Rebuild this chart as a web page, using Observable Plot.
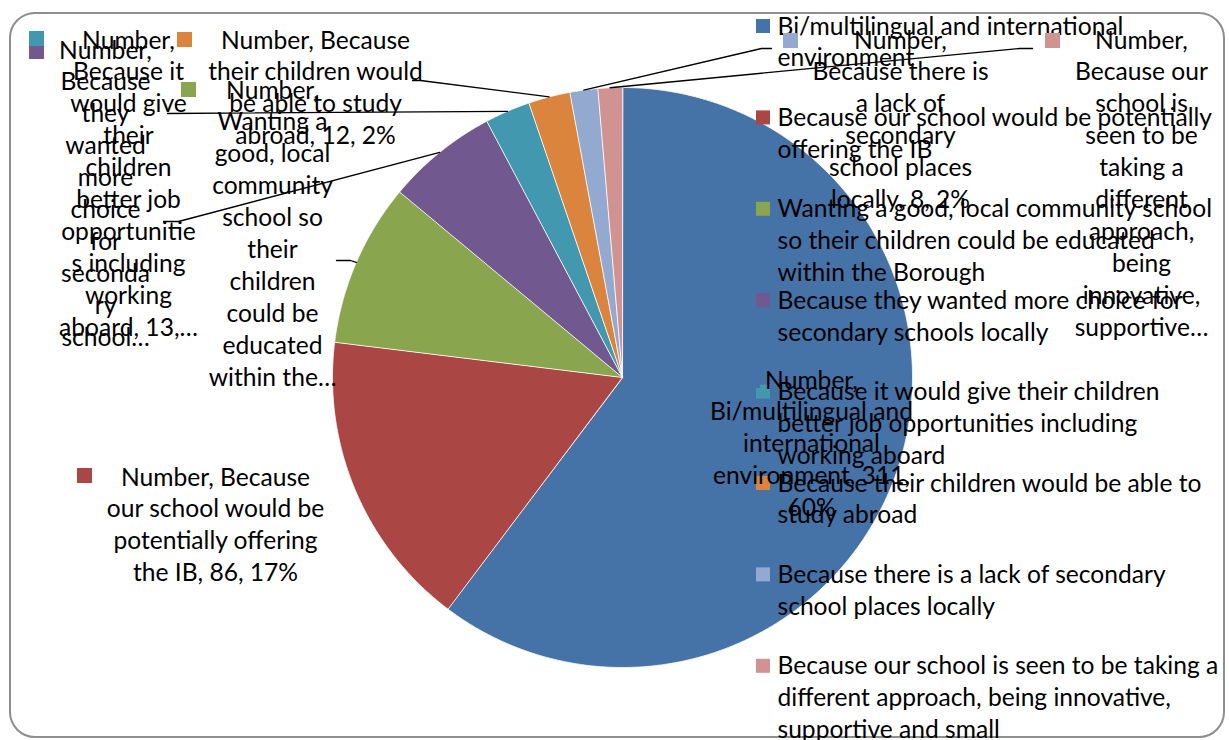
<!DOCTYPE html>
<html>
<head>
<meta charset="utf-8">
<script src="https://cdn.jsdelivr.net/npm/d3@7"></script>
<script src="https://cdn.jsdelivr.net/npm/@observablehq/plot@0.6"></script>
<style>
  html, body { margin: 0; padding: 0; background: #fff; }
  #wrap { position: relative; width: 1229px; height: 740px; overflow: hidden; }
  #frame { position: absolute; left: 9px; top: 12px; width: 1216px; height: 726px; box-sizing: border-box;
           border: 2px solid #8e8e8e; border-radius: 26px; pointer-events: none; }
  #chart { position: absolute; left: 0; top: 0; }
</style>
</head>
<body>
<div id="wrap"><div id="frame"></div><div id="chart"></div></div>
<script>
// ---------------- data ----------------
const categories = [
  "Bi/multilingual and international environment",
  "Because our school would be potentially offering the IB",
  "Wanting a good, local community school so their children could be educated within the Borough",
  "Because they wanted more choice for secondary schools locally",
  "Because it would give their children better job opportunities including working aboard",
  "Because their children would be able to study abroad",
  "Because there is a lack of secondary school places locally",
  "Because our school is seen to be taking a different approach, being innovative, supportive and small"
];
const values = [311, 86, 47, 32, 13, 12, 8, 7];
const colors = ["#4572A7", "#AA4643", "#89A54E", "#71588F", "#4198AF", "#DB843D", "#93A9CF", "#D19392"];

// legend text as wrapped in the original
const legendLines = [
  "Bi/multilingual and international\nenvironment",
  "Because our school would be potentially\noffering the IB",
  "Wanting a good, local community school\nso their children could be educated\nwithin the Borough",
  "Because they wanted more choice for\nsecondary schools locally",
  "Because it would give their children\nbetter job opportunities including\nworking aboard",
  "Because their children would be able to\nstudy abroad",
  "Because there is a lack of secondary\nschool places locally",
  "Because our school is seen to be taking a\ndifferent approach, being innovative,\nsupportive and small"
];

// data labels as wrapped (and truncated) in the original
const labelLines = [
  "Number,\nBi/multilingual and\ninternational\nenvironment, 311,\n60%",
  "Number, Because\nour school would be\npotentially offering\nthe IB, 86, 17%",
  "Number,\nWanting a\ngood, local\ncommunity\nschool so\ntheir\nchildren\ncould be\neducated\nwithin the…",
  "Number,\nBecause\nthey\nwanted\nmore\nchoice\nfor\nseconda\nry\nschool…",
  "Number,\nBecause it\nwould give\ntheir\nchildren\nbetter job\nopportunitie\ns including\nworking\naboard, 13,…",
  "Number, Because\ntheir children would\nbe able to study\nabroad, 12, 2%",
  "Number,\nBecause there is\na lack of\nsecondary\nschool places\nlocally, 8, 2%",
  "Number,\nBecause our\nschool is\nseen to be\ntaking a\ndifferent\napproach,\nbeing\ninnovative,\nsupportive…"
];

// ---------------- layout ----------------
const W = 1229, H = 740;
const FONT = "Lato, 'Open Sans', sans-serif";
const FS = 24.6, LH = 32;               // font size, line spacing (px)
const PIE = {cx: 622, cy: 377, r: 290};
const LEG = {keyX: 756, textX: 777, y0: 26, step: 91.4, key: 14};
const labelPos = [
  {x: 811, y: 380, kx: 745, ky: 373},
  {x: 215, y: 477, kx: 77, ky: 468},
  {x: 272, y: 90, kx: 181, ky: 82},
  {x: 105, y: 50, kx: 29, ky: 44},
  {x: 128, y: 40, kx: 29, ky: 31},
  {x: 315, y: 40, kx: 177, ky: 32},
  {x: 900, y: 40, kx: 783, ky: 33},
  {x: 1141, y: 40, kx: 1045, ky: 33}
];
const leaderStart = [null, null,
  [[336, 260], [350, 260]],
  [[163, 221], [178, 221]],
  [[167, 113]],
  [[412, 80], [420, 80]],
  [[771, 48], [761, 48]],
  [[1032, 48], [1019, 48]]
];
const textDy = 8 - 0.71 * LH;   // first-line centre -> top anchor

// ---------------- derived ----------------
const arcs = d3.pie().sort(null).value(d => d)(values);
const onRim = a => [PIE.cx + PIE.r * Math.sin(a), PIE.cy - PIE.r * Math.cos(a)];

const wedges = [];
arcs.forEach((p, i) => {
  wedges.push({cat: categories[i], x: PIE.cx, y: PIE.cy});
  const n = Math.max(2, Math.ceil((p.endAngle - p.startAngle) / 0.005));
  for (let k = 0; k <= n; ++k) {
    const [x, y] = onRim(p.startAngle + (p.endAngle - p.startAngle) * k / n);
    wedges.push({cat: categories[i], x, y});
  }
});

const leaders = [];
arcs.forEach((p, i) => {
  if (!leaderStart[i]) return;
  leaderStart[i].forEach(([x, y]) => leaders.push({cat: categories[i], x, y}));
  const [x, y] = onRim((p.startAngle + p.endAngle) / 2);
  leaders.push({cat: categories[i], x, y});
});

const legend = categories.map((c, i) => ({
  cat: c, text: legendLines[i],
  y: LEG.y0 + i * LEG.step
}));

const labels = categories.map((c, i) => ({cat: c, text: labelLines[i], ...labelPos[i]}));

const chart = Plot.plot({
  width: W, height: H,
  margin: 0,
  x: {domain: [0, W], range: [0, W], axis: null},
  y: {domain: [0, H], range: [0, H], axis: null},
  color: {type: "ordinal", domain: categories, range: colors},
  style: {fontFamily: FONT, background: "transparent"},
  marks: [
    Plot.line(wedges, {x: "x", y: "y", z: "cat", fill: "cat", stroke: "white", strokeWidth: 0.8, curve: "linear-closed"}),
    Plot.line(leaders, {x: "x", y: "y", z: "cat", stroke: "black", strokeWidth: 1.3}),
    // legend
    Plot.rect(legend, {x1: () => LEG.keyX, x2: () => LEG.keyX + LEG.key, y1: d => d.y - LEG.key / 2, y2: d => d.y + LEG.key / 2, fill: "cat"}),
    Plot.text(legend, {x: () => LEG.textX, y: "y", text: "text", textAnchor: "start", lineAnchor: "top",
      lineHeight: LH / FS, fontSize: FS, fontFamily: FONT, fill: "black", dy: textDy}),
    // data labels
    Plot.rect(labels, {x1: "kx", x2: d => d.kx + 15, y1: "ky", y2: d => d.ky + 15, fill: "cat"}),
    Plot.text(labels, {x: "x", y: "y", text: "text", textAnchor: "middle", lineAnchor: "top",
      lineHeight: LH / FS, fontSize: FS, fontFamily: FONT, fill: "black", dy: textDy})
  ]
});
document.getElementById("chart").appendChild(chart);
</script>
</body>
</html>
